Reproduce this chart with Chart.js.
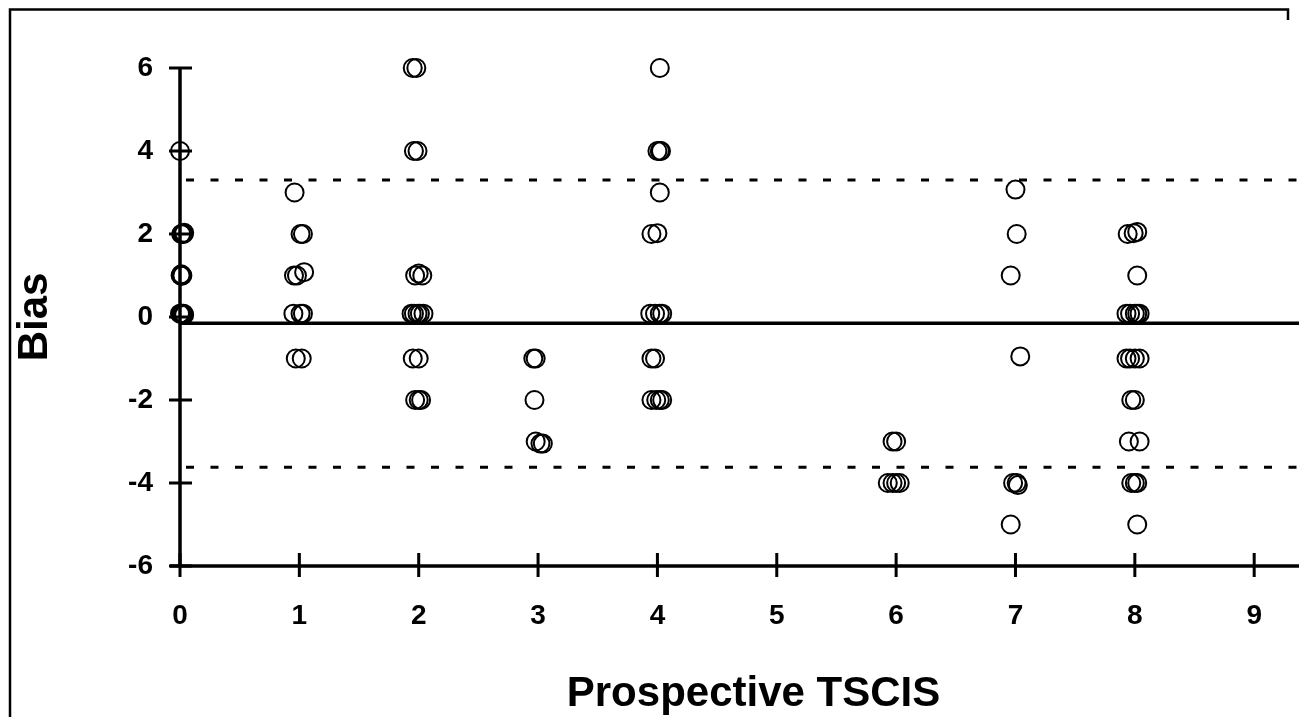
<!DOCTYPE html>
<html>
<head>
<meta charset="utf-8">
<script src="https://cdn.jsdelivr.net/npm/chart.js@4"></script>
<style>
  html, body { margin: 0; background: #fff; overflow: hidden; }
  #wrap { position: relative; width: 1299px; height: 717px; overflow: hidden; }
</style>
</head>
<body>
<div id="wrap"><canvas id="biasChart" width="1338" height="717"></canvas></div>
<script>
// Prospective TSCIS (slightly jittered as in the original) and bias
const tscis = [
    0, 0.01, 0.02, 0.03, 0.035, 0.005, 0.01, 0.015, 0.02, 0, 0.01, 0.02, 0.03, 0.035,
    0.96, 1.01, 1.03, 0.955, 0.98, 1.04, 0.95, 1.01, 1.03, 0.97, 1.02,
    1.95, 1.98, 1.96, 1.99, 1.97, 2.0, 2.03, 1.94, 1.96, 1.99, 2.01, 2.04, 1.95, 2.0, 1.97, 2.0, 2.02,
    2.96, 2.98, 2.97, 2.98, 3.02, 3.04,
    4.02, 4.0, 4.02, 4.03, 4.02, 3.95, 4.0, 3.94, 3.98, 4.02, 4.04, 3.95, 3.98, 3.95, 3.99, 4.02, 4.04,
    5.97, 6.0, 5.93, 5.97, 6.0, 6.03,
    7.0, 7.01, 6.96, 7.04, 6.98, 7.01, 7.02, 6.96,
    7.94, 7.99, 8.02, 8.02, 7.93, 7.96, 8.0, 8.02, 8.04, 7.93, 7.96, 8.0, 8.04,
    7.97, 8.0, 7.95, 8.04, 7.97, 8.0, 8.02, 8.02
];
const bias = [
    4, 2, 2, 2, 2.03, 1, 1.03, 1, 1, 0.08, 0.08, 0.08, 0.08, 0.05,
    3, 2, 2, 1, 1, 1.08, 0.08, 0.08, 0.08, -1, -1,
    6, 6, 4, 4, 1, 1.05, 1, 0.08, 0.08, 0.08, 0.08, 0.08, -1, -1, -2, -2, -2,
    -1, -1, -2, -3, -3.05, -3.05,
    6, 4, 4, 4, 3, 2, 2.02, 0.08, 0.08, 0.08, 0.08, -1, -1, -2, -2, -2, -2,
    -3, -3, -4, -4, -4, -4,
    3.07, 2, 1, -0.95, -4, -4, -4.05, -5,
    2, 2.02, 2.05, 1, 0.08, 0.08, 0.08, 0.08, 0.08, -1, -1, -1, -1,
    -2, -2, -3, -3, -4, -4, -4, -5
];
const xTicks = [0, 1, 2, 3, 4, 5, 6, 7, 8, 9];
const yTicks = [-6, -4, -2, 0, 2, 4, 6];
const meanBias = -0.15;
const limitsOfAgreement = [3.3, -3.62];

const points = tscis.map((x, i) => ({ x: x, y: bias[i] }));

// Axes with ticks crossing the line, mean line and dashed limits, page frame
const blandAltman = {
    id: 'blandAltman',
    beforeDatasetsDraw(chart) {
        const ctx = chart.ctx;
        const xs = chart.scales.x;
        const ys = chart.scales.y;
        const area = chart.chartArea;
        const x0 = xs.getPixelForValue(0);
        const yBottom = ys.getPixelForValue(-6);
        const yTop = ys.getPixelForValue(6);

        ctx.save();
        ctx.strokeStyle = '#000';
        ctx.lineCap = 'butt';

        // frame
        ctx.lineWidth = 2.5;
        ctx.beginPath();
        ctx.moveTo(10, 717);
        ctx.lineTo(10, 9.5);
        ctx.lineTo(1288, 9.5);
        ctx.lineTo(1288, 20);
        ctx.stroke();

        // limits of agreement
        ctx.lineWidth = 3;
        ctx.setLineDash([8, 16.5]);
        limitsOfAgreement.forEach(v => {
            const py = ys.getPixelForValue(v);
            ctx.beginPath();
            ctx.moveTo(area.left + 6, py);
            ctx.lineTo(area.right, py);
            ctx.stroke();
        });
        ctx.setLineDash([]);

        // mean bias
        ctx.lineWidth = 3.5;
        const pm = ys.getPixelForValue(meanBias);
        ctx.beginPath();
        ctx.moveTo(x0, pm);
        ctx.lineTo(area.right, pm);
        ctx.stroke();

        // axis lines
        ctx.lineWidth = 3.5;
        ctx.beginPath();
        ctx.moveTo(x0, yTop);
        ctx.lineTo(x0, yBottom);
        ctx.moveTo(x0 - 10, yBottom);
        ctx.lineTo(area.right, yBottom);
        ctx.stroke();

        // tick marks
        ctx.lineWidth = 3;
        ctx.beginPath();
        yTicks.forEach(v => {
            const py = ys.getPixelForValue(v);
            ctx.moveTo(x0 - 11, py);
            ctx.lineTo(x0 + 12, py);
        });
        xTicks.forEach(v => {
            const px = xs.getPixelForValue(v);
            ctx.moveTo(px, yBottom - 13);
            ctx.lineTo(px, yBottom + 11);
        });
        ctx.stroke();
        ctx.restore();
    }
};

const tickFont = { family: 'Liberation Sans, Arial, sans-serif', size: 28, weight: 'bold' };
const titleFont = { family: 'Liberation Sans, Arial, sans-serif', size: 42, weight: 'bold', lineHeight: 1 };

new Chart(document.getElementById('biasChart'), {
    type: 'scatter',
    data: {
        datasets: [{
            data: points,
            pointStyle: 'circle',
            pointRadius: 9,
            pointHoverRadius: 9,
            borderWidth: 2,
            borderColor: '#000',
            backgroundColor: 'rgba(0,0,0,0)',
            clip: false
        }]
    },
    options: {
        responsive: false,
        animation: false,
        events: [],
        layout: {
            padding: { top: 68, left: 0, right: 0, bottom: 0 }
        },
        scales: {
            x: {
                type: 'linear',
                min: 0,
                max: 9.61,
                afterFit: function(scale) {
                    scale.height = 151;
                    scale.paddingLeft = 0;
                    scale.paddingRight = 0;
                },
                afterBuildTicks: function(scale) { scale.ticks = xTicks.map(v => ({ value: v })); },
                grid: { display: false, drawTicks: false },
                border: { display: false },
                ticks: {
                    font: tickFont,
                    color: '#000',
                    padding: 33,
                    maxRotation: 0,
                    autoSkip: false
                },
                title: {
                    display: true,
                    text: 'Prospective TSCIS',
                    font: titleFont,
                    color: '#000',
                    padding: { top: 0, bottom: 2 }
                }
            },
            y: {
                type: 'linear',
                min: -6,
                max: 6,
                afterFit: function(scale) { scale.width = 180; },
                afterBuildTicks: function(scale) { scale.ticks = yTicks.map(v => ({ value: v })); },
                grid: { display: false, drawTicks: false },
                border: { display: false },
                ticks: {
                    font: tickFont,
                    color: '#000',
                    padding: 27,
                    autoSkip: false
                },
                title: {
                    display: true,
                    text: 'Bias',
                    font: titleFont,
                    color: '#000',
                    padding: { top: 14, bottom: 0 }
                }
            }
        },
        plugins: {
            legend: { display: false },
            tooltip: { enabled: false }
        }
    },
    plugins: [blandAltman]
});
</script>
</body>
</html>
